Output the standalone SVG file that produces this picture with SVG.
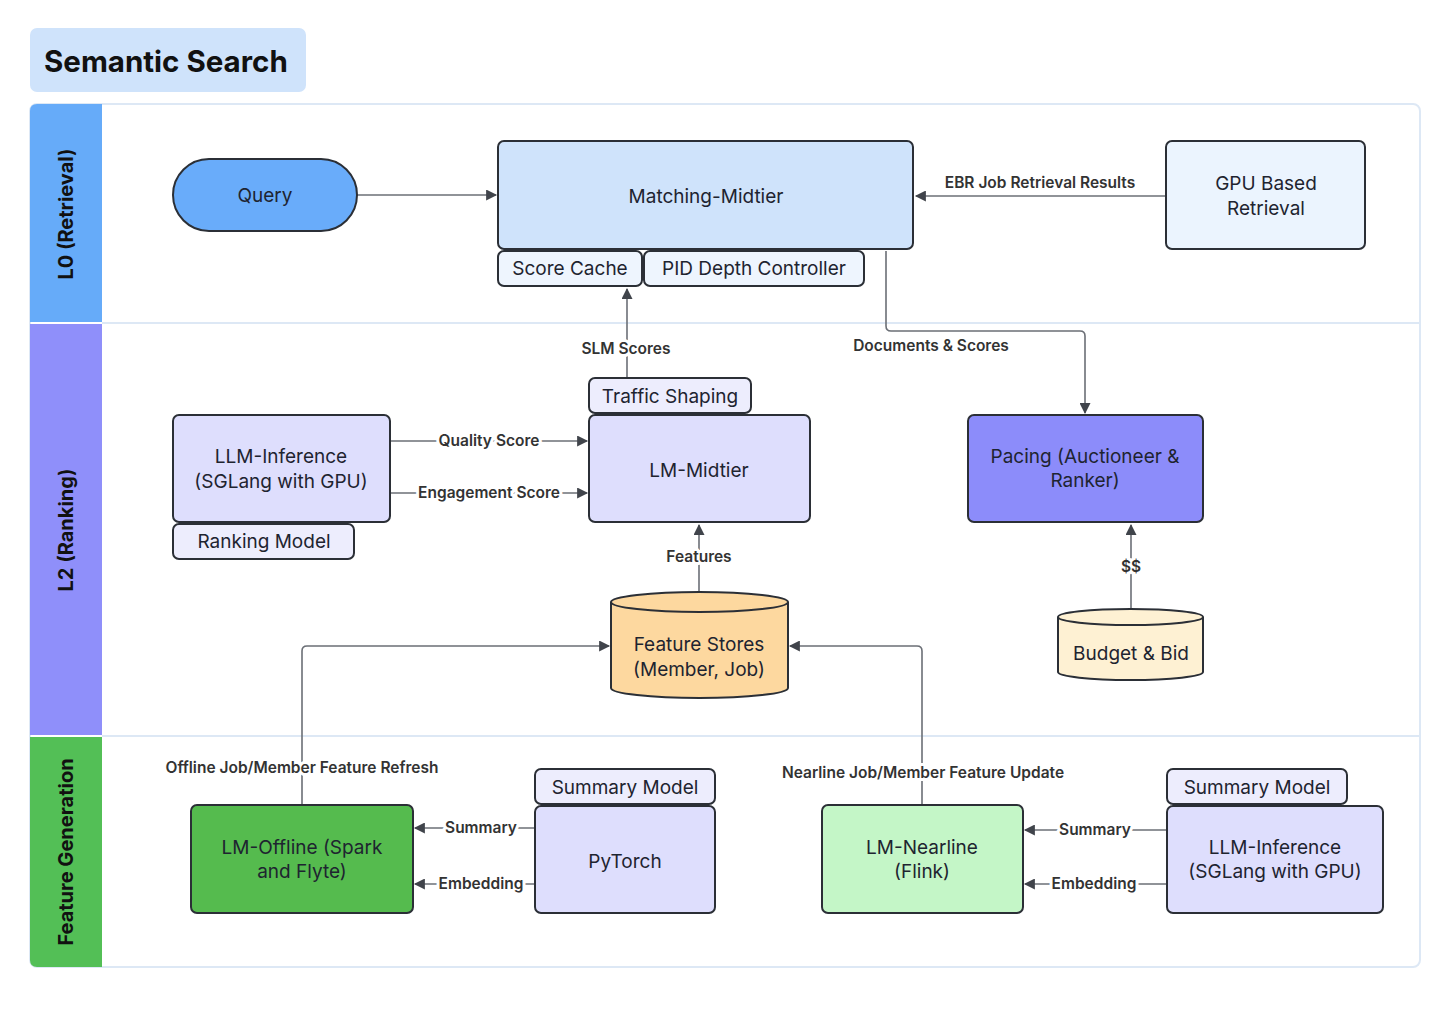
<svg xmlns="http://www.w3.org/2000/svg" width="1456" height="1010" viewBox="0 0 1456 1010">
<style>
  .node { stroke: #2b2f36; stroke-width: 2; }
  .t { font-family: Inter, "Noto Sans", "Liberation Sans", sans-serif; font-size: 19px; fill: #1e2430; text-anchor: middle; }
  .lane { font-family: Inter, "Noto Sans", "Liberation Sans", sans-serif; font-size: 20px; font-weight: 700; fill: #111; text-anchor: middle; }
  .el { font-family: Inter, "Noto Sans", "Liberation Sans", sans-serif; font-size: 15.5px; font-weight: 600; fill: #333; text-anchor: middle; }
  .elb { paint-order: stroke; stroke: #fff; stroke-width: 6px; stroke-linejoin: round; }
  .edge { fill: none; stroke: #6b6f76; stroke-width: 1.6; }
  .arr { marker-end: url(#ah); }
</style>
<defs>
  <marker id="ah" viewBox="0 0 10 10" refX="9" refY="5" markerWidth="12" markerHeight="11" markerUnits="userSpaceOnUse" orient="auto">
    <path d="M0,0 L10,5 L0,10 Z" fill="#40444b"/>
  </marker>
</defs>
<rect width="1456" height="1010" fill="#ffffff"/>

<g id="title">
  <rect x="30" y="28" width="276" height="64" rx="7" fill="#cfe3fb"/>
  <text x="44" y="72" font-family="Inter, 'Noto Sans', 'Liberation Sans', sans-serif" font-size="29.5" font-weight="700" fill="#111">Semantic Search</text>
</g>

<g id="pool">
  <rect x="30" y="104" width="1390" height="863" rx="7" fill="#fff" stroke="#dde8f5" stroke-width="2"/>
  <line x1="102" y1="323" x2="1420" y2="323" stroke="#dde8f5" stroke-width="2"/>
  <line x1="102" y1="736" x2="1420" y2="736" stroke="#dde8f5" stroke-width="2"/>
  <path d="M30,322 V111 Q30,104 37,104 H102 V322 Z" fill="#66abf9"/>
  <rect x="30" y="324" width="72" height="411" fill="#8f8ffa"/>
  <path d="M30,737 V960 Q30,967 37,967 H102 V737 Z" fill="#53bf56"/>
  <text class="lane" transform="translate(73,214) rotate(-90)">L0 (Retrieval)</text>
  <text class="lane" transform="translate(73,530) rotate(-90)">L2 (Ranking)</text>
  <text class="lane" transform="translate(73,852) rotate(-90)">Feature Generation</text>
</g>

<g id="connectors">
  <path class="edge arr" d="M357,195 H496"/>
  <path class="edge arr" d="M1166,196 H916"/>
  <path class="edge arr" d="M886,251 V326 Q886,331 891,331 H1080 Q1085,331 1085,336 V413"/>
  <path class="edge arr" d="M627,378 V289"/>
  <path class="edge arr" d="M390,441 H587"/>
  <path class="edge arr" d="M390,493 H587"/>
  <path class="edge arr" d="M699,598 V525"/>
  <path class="edge arr" d="M1131,609 V525"/>
  <path class="edge arr" d="M302,805 V651 Q302,646 307,646 H609"/>
  <path class="edge arr" d="M922,805 V651 Q922,646 917,646 H790"/>
  <path class="edge arr" d="M535,828 H415"/>
  <path class="edge arr" d="M535,884 H415"/>
  <path class="edge arr" d="M1167,830 H1025"/>
  <path class="edge arr" d="M1167,884 H1025"/>

  <text class="el" x="1040" y="188">EBR Job Retrieval Results</text>
  <text class="el" x="931" y="351">Documents &amp; Scores</text>
  <text class="el elb" x="626" y="354">SLM Scores</text>
  <text class="el elb" x="489" y="446">Quality Score</text>
  <text class="el elb" x="489" y="498">Engagement Score</text>
  <text class="el elb" x="699" y="562">Features</text>
  <text class="el elb" x="1131" y="572">$$</text>
  <text class="el elb" x="302" y="773">Offline Job/Member Feature Refresh</text>
  <text class="el elb" x="923" y="778">Nearline Job/Member Feature Update</text>
  <text class="el elb" x="481" y="833">Summary</text>
  <text class="el elb" x="481" y="889">Embedding</text>
  <text class="el elb" x="1095" y="835">Summary</text>
  <text class="el elb" x="1094" y="889">Embedding</text>
</g>

<g id="query">
  <rect class="node" x="173" y="159" width="184" height="72" rx="36" fill="#69acfa"/>
  <text class="t" x="265" y="202">Query</text>
</g>

<g id="matching-midtier">
  <rect class="node" x="498" y="141" width="415" height="108" rx="6" fill="#cfe3fb"/>
  <text class="t" x="706" y="203">Matching-Midtier</text>
</g>
<g id="score-cache">
  <rect class="node" x="498" y="251" width="144" height="35" rx="6" fill="#eef5fe"/>
  <text class="t" x="570" y="275">Score Cache</text>
</g>
<g id="pid-depth-controller">
  <rect class="node" x="644" y="251" width="220" height="35" rx="6" fill="#eef5fe"/>
  <text class="t" x="754" y="275">PID Depth Controller</text>
</g>

<g id="gpu-based-retrieval">
  <rect class="node" x="1166" y="141" width="199" height="108" rx="6" fill="#ebf4fe"/>
  <text class="t" x="1266" y="190">GPU Based</text>
  <text class="t" x="1266" y="215">Retrieval</text>
</g>

<g id="traffic-shaping">
  <rect class="node" x="589" y="378" width="162" height="35" rx="6" fill="#ededfd"/>
  <text class="t" x="670" y="403">Traffic Shaping</text>
</g>
<g id="lm-midtier">
  <rect class="node" x="589" y="415" width="221" height="107" rx="6" fill="#dedefd"/>
  <text class="t" x="699" y="477">LM-Midtier</text>
</g>

<g id="llm-inference-ranking">
  <rect class="node" x="173" y="415" width="217" height="107" rx="6" fill="#dedefd"/>
  <text class="t" x="281" y="463">LLM-Inference</text>
  <text class="t" x="281" y="488">(SGLang with GPU)</text>
</g>
<g id="ranking-model">
  <rect class="node" x="173" y="524" width="181" height="35" rx="6" fill="#ededfd"/>
  <text class="t" x="264" y="548">Ranking Model</text>
</g>

<g id="pacing">
  <rect class="node" x="968" y="415" width="235" height="107" rx="6" fill="#8c8cfa"/>
  <text class="t" x="1085" y="463">Pacing (Auctioneer &amp;</text>
  <text class="t" x="1085" y="487">Ranker)</text>
</g>

<g id="feature-stores">
  <path class="node" d="M611,602 A88.5,10 0 0 1 788,602 V688 A88.5,10 0 0 1 611,688 Z" fill="#fdd89f"/>
  <path d="M611,602 A88.5,10 0 0 0 788,602" fill="none" stroke="#2b2f36" stroke-width="2"/>
  <text class="t" x="699" y="651">Feature Stores</text>
  <text class="t" x="699" y="676">(Member, Job)</text>
</g>

<g id="budget-bid">
  <path class="node" d="M1058,617 A72.5,8 0 0 1 1203,617 V672 A72.5,8 0 0 1 1058,672 Z" fill="#fef1d3"/>
  <path d="M1058,617 A72.5,8 0 0 0 1203,617" fill="none" stroke="#2b2f36" stroke-width="2"/>
  <text class="t" x="1131" y="660">Budget &amp; Bid</text>
</g>

<g id="lm-offline">
  <rect class="node" x="191" y="805" width="222" height="108" rx="6" fill="#55bb4e"/>
  <text class="t" x="302" y="854">LM-Offline (Spark</text>
  <text class="t" x="302" y="878">and Flyte)</text>
</g>

<g id="summary-model-left">
  <rect class="node" x="535" y="769" width="180" height="35" rx="6" fill="#ededfd"/>
  <text class="t" x="625" y="794">Summary Model</text>
</g>
<g id="pytorch">
  <rect class="node" x="535" y="806" width="180" height="107" rx="6" fill="#dedefd"/>
  <text class="t" x="625" y="868">PyTorch</text>
</g>

<g id="lm-nearline">
  <rect class="node" x="822" y="805" width="201" height="108" rx="6" fill="#c4f6c7"/>
  <text class="t" x="922" y="854">LM-Nearline</text>
  <text class="t" x="922" y="878">(Flink)</text>
</g>

<g id="summary-model-right">
  <rect class="node" x="1167" y="769" width="180" height="35" rx="6" fill="#ededfd"/>
  <text class="t" x="1257" y="794">Summary Model</text>
</g>
<g id="llm-inference-fg">
  <rect class="node" x="1167" y="806" width="216" height="107" rx="6" fill="#dedefd"/>
  <text class="t" x="1275" y="854">LLM-Inference</text>
  <text class="t" x="1275" y="878">(SGLang with GPU)</text>
</g>
</svg>
